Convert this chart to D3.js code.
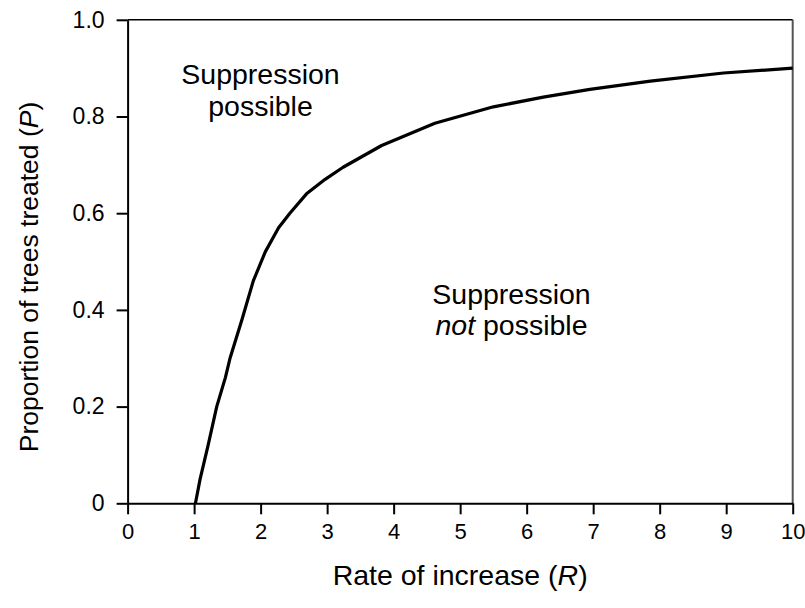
<!DOCTYPE html>
<html>
<head>
<meta charset="utf-8">
<script src="https://cdn.jsdelivr.net/npm/d3@7"></script>
<style>
  html, body { margin: 0; padding: 0; background: #fff; }
  svg { display: block; font-family: "Liberation Sans", Arial, sans-serif; }
</style>
</head>
<body>
<svg id="chart" width="805" height="608"></svg>
<script>
// Data
const rateR = [1.02, 1.09, 1.21, 1.34, 1.47, 1.54, 1.72, 1.89, 2.07, 2.27, 2.44, 2.69, 2.97, 3.24, 3.82, 4.62, 5.50, 6.25, 6.95, 7.86, 8.96, 10];
const propP = [0, 0.05, 0.12, 0.20, 0.26, 0.30, 0.38, 0.46, 0.52, 0.57, 0.60, 0.64, 0.67, 0.695, 0.74, 0.786, 0.82, 0.84, 0.856, 0.873, 0.89, 0.90];
const xTicks = [0, 1, 2, 3, 4, 5, 6, 7, 8, 9, 10];
const yTicks = [0, 0.2, 0.4, 0.6, 0.8, 1.0];
const yTickLabels = ["0", "0.2", "0.4", "0.6", "0.8", "1.0"];

const svg = d3.select("#chart");
const mLeft = 127.6, mRight = 792.7, mTop = 19.8, mBottom = 503.3;

const x = d3.scaleLinear().domain([0, 10]).range([mLeft, mRight]);
const y = d3.scaleLinear().domain([0, 1]).range([mBottom, mTop]);

// frame: top and right
svg.append("line").attr("x1", mLeft).attr("x2", mRight).attr("y1", mTop).attr("y2", mTop)
  .attr("stroke", "#000").attr("stroke-width", 1.5);
svg.append("line").attr("x1", mRight).attr("x2", mRight).attr("y1", mTop).attr("y2", mBottom)
  .attr("stroke", "#555").attr("stroke-width", 2);

// x axis
const xAxis = d3.axisBottom(x).tickValues(xTicks).tickFormat(d3.format("d"))
  .tickSizeInner(11).tickSizeOuter(0).tickPadding(9);
const gx = svg.append("g").attr("transform", `translate(0,${mBottom})`).call(xAxis);
gx.attr("font-size", null).attr("font-family", null);
gx.select(".domain").attr("stroke", "#000").attr("stroke-width", 2);
gx.selectAll(".tick line").attr("stroke", "#000").attr("stroke-width", 2);
gx.selectAll(".tick text").style("font-size", "22px").style("font-family", "'Liberation Sans', Arial, sans-serif").attr("fill", "#000");

// y axis
const yAxis = d3.axisLeft(y).tickValues(yTicks).tickFormat((d, i) => yTickLabels[i])
  .tickSizeInner(11).tickSizeOuter(0).tickPadding(12);
const gy = svg.append("g").attr("transform", `translate(${mLeft},0)`).call(yAxis);
gy.attr("font-size", null).attr("font-family", null);
gy.select(".domain").attr("stroke", "#000").attr("stroke-width", 2);
gy.selectAll(".tick line").attr("stroke", "#000").attr("stroke-width", 2);
gy.selectAll(".tick text").style("font-size", "23px").style("font-family", "'Liberation Sans', Arial, sans-serif").attr("fill", "#000");

// curve
const pts = rateR.map((r, i) => [r, propP[i]]);
svg.append("path").datum(pts)
  .attr("fill", "none").attr("stroke", "#000").attr("stroke-width", 3.2)
  .attr("stroke-linejoin", "round")
  .attr("d", d3.line().x(d => x(d[0])).y(d => y(d[1])).curve(d3.curveLinear));

// annotations
const ann1 = svg.append("text").attr("text-anchor", "middle").attr("font-size", 28.5).attr("fill", "#000");
ann1.append("tspan").attr("x", 260.5).attr("y", 84).text("Suppression");
ann1.append("tspan").attr("x", 260.5).attr("y", 116).text("possible");

const ann2 = svg.append("text").attr("text-anchor", "middle").attr("font-size", 28.5).attr("fill", "#000");
ann2.append("tspan").attr("x", 511.5).attr("y", 304).text("Suppression");
const l2 = ann2.append("tspan").attr("x", 511.5).attr("y", 335);
l2.append("tspan").attr("font-style", "italic").text("not");
l2.append("tspan").text(" possible");

// axis titles
const xt = svg.append("text").attr("text-anchor", "middle").attr("font-size", 28.5).attr("fill", "#000")
  .attr("x", (mLeft + mRight) / 2).attr("y", 585);
xt.append("tspan").text("Rate of increase (");
xt.append("tspan").attr("font-style", "italic").text("R");
xt.append("tspan").text(")");

const yt = svg.append("text").attr("text-anchor", "middle").attr("font-size", 26.5).attr("fill", "#000")
  .attr("transform", `translate(38,${277}) rotate(-90)`);
yt.append("tspan").text("Proportion of trees treated (");
yt.append("tspan").attr("font-style", "italic").text("P");
yt.append("tspan").text(")");
</script>
</body>
</html>
